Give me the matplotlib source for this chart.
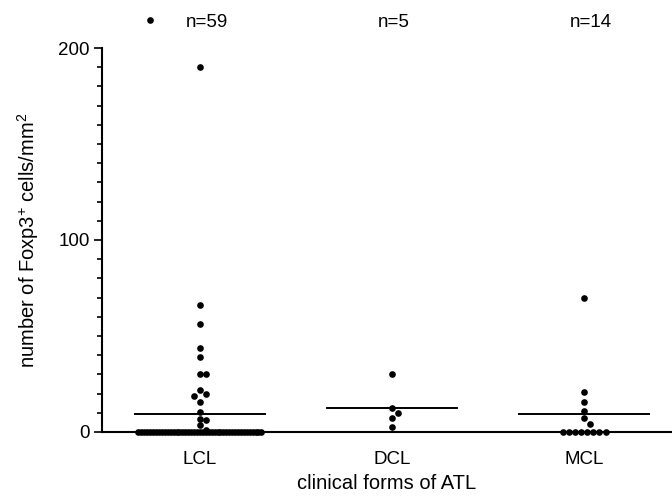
import matplotlib

matplotlib.use("Agg")
import matplotlib.pyplot as plt
import numpy as np
from matplotlib.ticker import MultipleLocator

plt.rcParams["font.family"] = ["Liberation Sans", "DejaVu Sans"]
plt.rcParams["font.size"] = 13.5

# 讀圖估計的資料
categories = ["LCL", "DCL", "MCL"]
n_labels = ["n=59", "n=5", "n=14"]
lcl_values = [190, 66, 56, 44, 39, 30, 30, 22, 20, 19, 15.5, 10.5, 7, 6, 3.5, 1] + [0] * 43
dcl_values = [30, 12.5, 9.7, 7.4, 2.8]
mcl_values = [70, 21, 15.5, 11, 7.4, 4.3] + [0] * 8
lcl_offscale = [214.5]   # 畫在軸外的那一點
groups = [lcl_values, dcl_values, mcl_values]

DX = 0.032        # 點的水平間距（類別單位）
DY = 3.2          # 點的垂直碰撞距離（資料單位）
MAX_HALF = 0.32   # 同值點最大展開半寬
LINE_HALF = 0.34


def swarm_offsets(values):
    vals = np.asarray(values, dtype=float)
    offs = np.zeros(len(vals))
    uniq, counts = np.unique(vals, return_counts=True)
    placed = []
    tie_vals = set()
    for u, c in zip(uniq, counts):
        if c > 3:
            tie_vals.add(u)
            idx = np.where(vals == u)[0]
            step = min(DX, 2 * MAX_HALF / (c - 1))
            offs[idx] = (np.arange(c) - (c - 1) / 2) * step
    order = np.argsort(-vals)
    for i in order:
        v = vals[i]
        if v in tie_vals:
            continue
        for k in [0, 1, -1, 2, -2, 3, -3]:
            x = k * DX
            ok = all(((x - px) / DX) ** 2 + ((v - py) / DY) ** 2 >= 0.95
                     for px, py in placed)
            if ok:
                break
        offs[i] = x
        placed.append((x, v))
    return offs


fig = plt.figure(figsize=(6.72, 4.99), dpi=100)
ax = fig.add_axes([0.1518, 0.1343, 0.8482, 0.7695])

for pos, vals in enumerate(groups):
    offs = swarm_offsets(vals)
    ax.plot(pos + offs, vals, "o", color="black", markersize=4.8,
            markeredgewidth=0, clip_on=False, zorder=1.5)
    ax.plot([pos - LINE_HALF, pos + LINE_HALF], [np.mean(vals)] * 2,
            color="black", linewidth=1.4, zorder=2)
    ax.text(pos - 0.073, 211, n_labels[pos], ha="left", va="baseline",
            fontsize=13.5, clip_on=False)

ax.plot([0 - 0.26] * len(lcl_offscale), lcl_offscale, "o", color="black",
        markersize=4.8, markeredgewidth=0, clip_on=False)

ax.set_xlim(-0.51, 2.458)
ax.set_ylim(0, 200)
ax.set_xticks(range(len(categories)))
ax.set_xticklabels(categories)
ax.yaxis.set_major_locator(MultipleLocator(100))
ax.yaxis.set_minor_locator(MultipleLocator(10))

for side in ("top", "right"):
    ax.spines[side].set_visible(False)
for side in ("left", "bottom"):
    ax.spines[side].set_linewidth(1.5)
    ax.spines[side].set_zorder(5)
ax.tick_params(axis="x", length=0, pad=14, labelsize=13.5)
ax.tick_params(axis="y", which="major", length=6, width=1.2, pad=3, labelsize=13.5)
ax.tick_params(axis="y", which="minor", length=3.8, width=1.2)

ax.set_xlabel("clinical forms of ATL", fontsize=14.5, labelpad=4)
ax.set_ylabel(r"number of Foxp3$^{\mathregular{+}}$ cells/mm$^{\mathregular{2}}$",
              fontsize=14.5, labelpad=12)

fig.savefig("out.png", dpi=100)
